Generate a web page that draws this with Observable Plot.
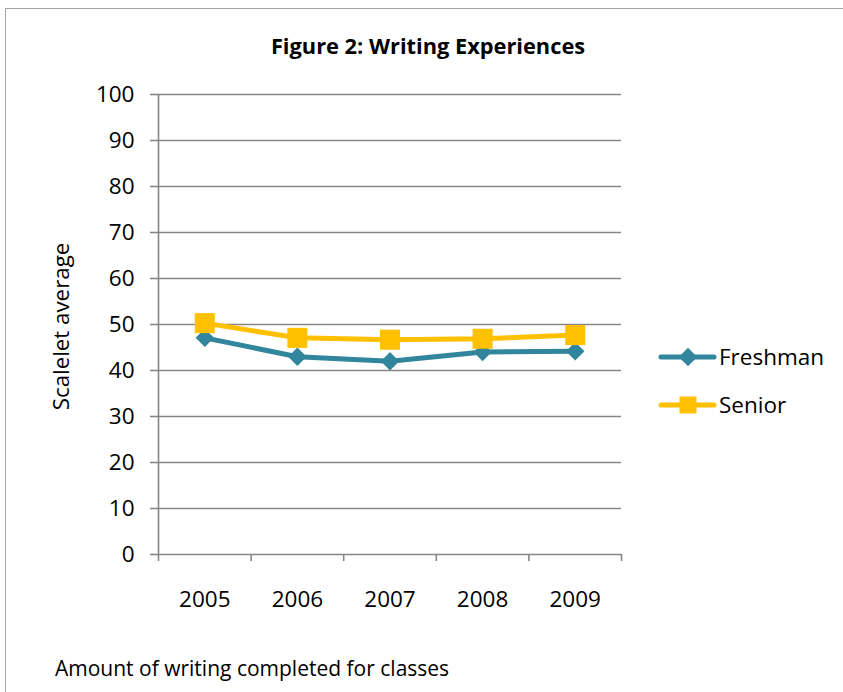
<!DOCTYPE html>
<html>
<head>
<meta charset="utf-8">
<script src="https://cdn.jsdelivr.net/npm/d3@7"></script>
<script src="https://cdn.jsdelivr.net/npm/@observablehq/plot@0.6"></script>
<style>
  html, body { margin: 0; padding: 0; background: #fff; }
  body { width: 843px; height: 692px; position: relative; overflow: hidden; font-family: "Open Sans", Lato, sans-serif; }
  #frame { position: absolute; left: 5px; top: 8px; width: 900px; height: 800px; border: 1.5px solid #a6a6a6; box-sizing: border-box; }
  #title { position: absolute; left: 0; width: 856px; top: 33px; text-align: center; font-weight: bold; font-size: 21.8px; color: #000; line-height: 1.2; }
  #chart { position: absolute; left: 0; top: 0; }
  #caption { position: absolute; left: 55px; top: 656px; font-size: 21px; color: #000; line-height: 1.2; }
  #legend { position: absolute; left: 0; top: 0; }
</style>
</head>
<body>
<div id="frame"></div>
<div id="chart"></div>
<div id="title">Figure 2: Writing Experiences</div>
<div id="caption">Amount of writing completed for classes</div>
<svg id="legend" width="843" height="692"></svg>
<script>
const years = [2005, 2006, 2007, 2008, 2009];
const freshman = [47.1, 43.0, 42.0, 44.0, 44.2];
const senior = [50.3, 47.1, 46.7, 46.9, 47.7];
const seriesNames = ["Freshman", "Senior"];
const seriesColors = ["#31859C", "#FFC000"];
const yTicks = [0, 10, 20, 30, 40, 50, 60, 70, 80, 90, 100];

const data = [
  ...years.map((y, i) => ({year: y, value: freshman[i], series: "Freshman"})),
  ...years.map((y, i) => ({year: y, value: senior[i], series: "Senior"}))
];
const boundaries = [...years.map(y => y - 0.5), years[years.length - 1] + 0.5];
const fresh = data.filter(d => d.series === "Freshman");
const sen = data.filter(d => d.series === "Senior");
const FONT = "'Open Sans', Lato, sans-serif";

const chart = Plot.plot({
  width: 843,
  height: 692,
  marginLeft: 158,
  marginRight: 222,
  marginTop: 94,
  marginBottom: 138,
  style: {fontFamily: FONT, background: "transparent", overflow: "visible"},
  x: {type: "linear", domain: [boundaries[0], boundaries[boundaries.length - 1]]},
  y: {domain: [0, 100]},
  marks: [
    Plot.gridY(yTicks, {stroke: "#868686", strokeOpacity: 1, strokeWidth: 1.6}),
    Plot.ruleX([boundaries[0]], {stroke: "#868686", strokeWidth: 1.6}),
    Plot.axisY({ticks: yTicks, tickSize: 8, tickPadding: 16, fontSize: 22.5, stroke: "#868686", strokeWidth: 1.6, strokeOpacity: 1, color: "#000", label: null}),
    Plot.axisX({ticks: boundaries, tickSize: 7, tickFormat: () => "", stroke: "#868686", strokeWidth: 1.6, strokeOpacity: 1, label: null}),
    Plot.axisX({ticks: years, tickSize: 0, tickPadding: 37, tickFormat: d => String(d), fontSize: 22.5, color: "#000", label: null}),
    Plot.line(fresh, {x: "year", y: "value", stroke: seriesColors[0], strokeWidth: 5}),
    Plot.line(sen, {x: "year", y: "value", stroke: seriesColors[1], strokeWidth: 5}),
    Plot.dot(fresh, {x: "year", y: "value", symbol: "diamond2", r: 8.3, fill: seriesColors[0], stroke: "none"}),
    Plot.dot(sen, {x: "year", y: "value", symbol: "square", r: 11.3, fill: seriesColors[1], stroke: "none"}),
    Plot.text(["Scalelet average"], {frameAnchor: "left", dx: -97, dy: 2, rotate: -90, fontSize: 22.3, fill: "#000", textAnchor: "middle"})
  ]
});
document.getElementById("chart").appendChild(chart);

// legend
const lg = d3.select("#legend");
const legendY = [357, 405];
const symbols = [d3.symbolDiamond2, d3.symbolSquare];
const sizes = [Math.PI * 8.3 * 8.3, Math.PI * 11.3 * 11.3 * 0.72];
seriesNames.forEach((name, i) => {
  const g = lg.append("g").attr("transform", `translate(0,${legendY[i]})`);
  g.append("line").attr("x1", 661).attr("x2", 714).attr("y1", 0).attr("y2", 0)
    .attr("stroke", seriesColors[i]).attr("stroke-width", 5).attr("stroke-linecap", "round");
  g.append("path").attr("d", d3.symbol(symbols[i], sizes[i])()).attr("transform", "translate(688,0)")
    .attr("fill", seriesColors[i]);
  g.append("text").attr("x", 719).attr("y", 0).attr("dy", "0.35em").attr("font-size", 22.5)
    .attr("font-family", FONT).attr("fill", "#000").text(name);
});
</script>
</body>
</html>
